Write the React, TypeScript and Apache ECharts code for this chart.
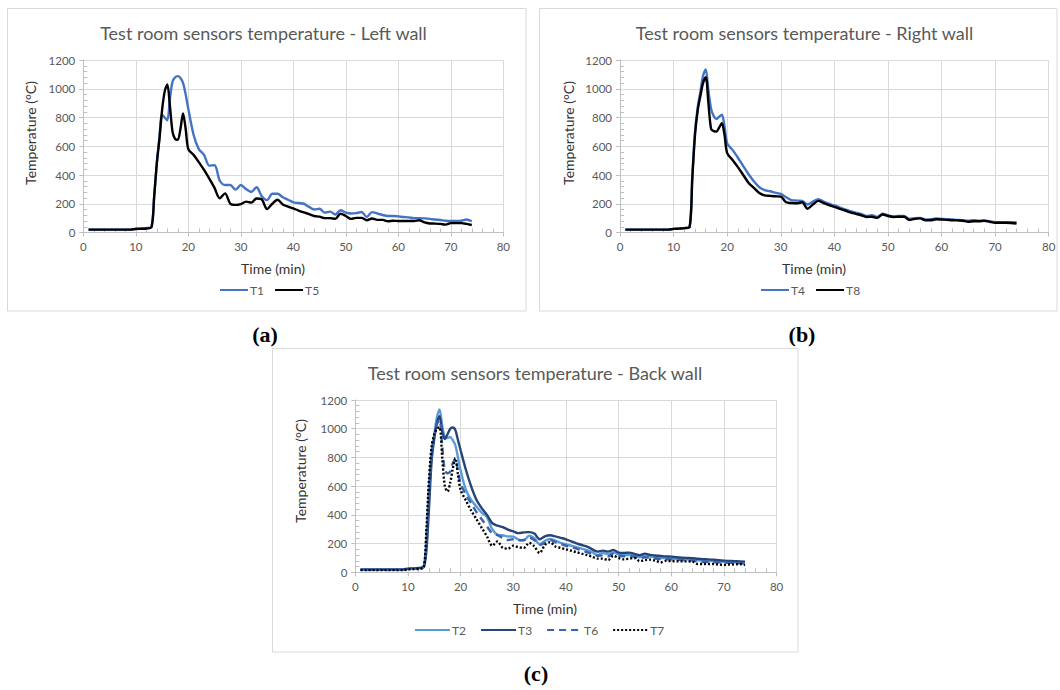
import React, { useEffect, useRef } from "react";
import * as echarts from "echarts";

// Time axis (min)
const TIME = [
  1, 2, 3, 4, 5, 6, 7, 8, 9, 10, 11, 12, 13,
  13.5, 14, 14.5, 15, 15.5, 16, 16.5, 17, 17.5, 18, 18.5, 19, 19.5,
  20, 21, 22, 23, 24, 25, 26, 27, 28, 29, 30, 31, 32, 33, 34, 35, 36, 37, 38, 39,
  40, 41, 42, 43, 44, 45, 46, 47, 48, 49, 50, 51, 52, 53, 54, 55, 56, 57, 58, 59,
  60, 61, 62, 63, 64, 65, 66, 67, 68, 69, 70, 71, 72, 73, 74,
];

const X_TICKS = [0, 80, 10];
const Y_TICKS = [0, 1200, 200];

// Left wall
const T1 = [
  20, 20, 20, 20, 20, 20, 20, 20, 20, 26, 28, 30, 40,
  250, 480, 660, 820, 800, 780, 930, 1050, 1080, 1088, 1075, 1040, 960,
  860, 680, 580, 540, 465, 468, 360, 330, 330, 298, 330, 302, 282, 315, 252, 225, 270, 270, 245, 228,
  210, 205, 200, 178, 160, 165, 138, 145, 125, 155, 138, 132, 135, 143, 108, 142, 132, 122, 115, 115,
  112, 108, 105, 100, 100, 98, 95, 90, 87, 82, 80, 80, 82, 90, 78,
];
const T5 = [
  20, 20, 20, 20, 20, 20, 20, 20, 20, 24, 26, 28, 38,
  250, 480, 650, 850, 980, 1030, 880, 700, 650, 645, 720, 828, 720,
  580, 540, 490, 435, 375, 310, 238, 272, 200, 192, 198, 215, 208, 237, 230, 163, 200, 228, 195, 180,
  167, 153, 140, 128, 115, 110, 100, 100, 95, 130, 115, 95, 102, 102, 85, 97, 88, 88, 78, 82,
  80, 80, 80, 80, 85, 70, 63, 62, 60, 55, 65, 65, 65, 60, 52,
];

// Right wall
const T4 = [
  20, 20, 20, 20, 20, 20, 20, 20, 20, 25, 27, 30, 40,
  400, 700, 870, 980, 1090, 1135, 990, 860, 810, 790, 805, 820, 740,
  620, 575, 520, 462, 405, 355, 315, 295, 287, 277, 268, 245, 225, 222, 220, 195, 215, 232, 215, 200,
  188, 175, 160, 148, 138, 130, 115, 120, 108, 130, 120, 112, 115, 115, 95, 100, 102, 90, 92, 98,
  95, 92, 90, 88, 85, 82, 85, 82, 82, 78, 72, 72, 72, 72, 70,
];
const T8 = [
  20, 20, 20, 20, 20, 20, 20, 20, 20, 25, 27, 30, 40,
  380, 680, 850, 950, 1040, 1080, 900, 720, 705, 702, 730, 760, 680,
  552, 505, 455, 400, 345, 310, 275, 258, 255, 252, 250, 210, 205, 203, 210, 165, 195, 220, 205, 190,
  178, 165, 153, 140, 130, 120, 108, 110, 102, 125, 115, 108, 110, 110, 88, 95, 98, 85, 85, 92,
  90, 88, 85, 84, 82, 75, 78, 78, 82, 75, 68, 68, 68, 66, 63,
];

// Back wall
const T2 = [
  18, 18, 18, 18, 18, 18, 18, 18, 18, 24, 26, 28, 40,
  250, 600, 850, 960, 1080, 1135, 1020, 940, 935, 942, 920, 885, 800,
  710, 575, 505, 458, 416, 385, 300, 262, 258, 250, 248, 228, 222, 255, 238, 195, 220, 232, 220, 205,
  195, 185, 175, 165, 155, 140, 120, 135, 125, 140, 125, 120, 120, 115, 105, 115, 110, 105, 100, 98,
  95, 94, 92, 90, 88, 84, 80, 79, 78, 75, 72, 71, 70, 69, 68,
];
const T3 = [
  20, 20, 20, 20, 20, 20, 20, 20, 20, 25, 27, 30, 40,
  150, 450, 780, 930, 1040, 1088, 980, 928, 960, 998, 1008, 990, 920,
  850, 714, 598, 505, 447, 400, 342, 325, 315, 297, 285, 273, 278, 280, 270, 230, 250, 258, 250, 240,
  230, 215, 202, 190, 179, 160, 144, 151, 144, 156, 137, 135, 137, 128, 119, 130, 121, 117, 114, 111,
  109, 105, 102, 100, 98, 94, 91, 90, 88, 84, 81, 79, 77, 76, 74,
];
const T6 = [
  18, 18, 18, 18, 18, 18, 18, 18, 18, 24, 26, 28, 38,
  220, 560, 820, 950, 1030, 1060, 880, 710, 690, 700, 760, 790, 700,
  620, 540, 480, 420, 370, 320, 272, 258, 240, 225, 230, 222, 225, 240, 225, 190, 205, 225, 210, 198,
  185, 175, 165, 152, 140, 128, 115, 118, 110, 130, 115, 112, 112, 108, 95, 105, 100, 96, 92, 91,
  90, 88, 85, 84, 82, 76, 72, 71, 70, 69, 68, 66, 65, 63, 60,
];
const T7 = [
  15, 15, 15, 15, 15, 15, 15, 15, 15, 20, 22, 25, 35,
  300, 650, 880, 960, 1000, 1010, 800, 600, 563, 620, 720, 795, 680,
  574, 500, 430, 370, 310, 250, 185, 215, 170, 165, 185, 175, 170, 205, 180, 135, 190, 210, 180, 170,
  160, 150, 140, 130, 120, 108, 95, 95, 85, 115, 100, 90, 95, 100, 78, 85, 88, 80, 70, 80,
  78, 77, 76, 76, 75, 58, 58, 58, 58, 54, 52, 54, 55, 58, 50,
];

const FONT = "Lato, 'Open Sans', sans-serif";
const GREY = "#595959";

const pairs = (vals: number[]) => TIME.map((t, i) => [t, vals[i]]);

export default function App() {
  const ref = useRef<HTMLDivElement>(null);
  useEffect(() => {
    if (!ref.current) return;
    const chart = echarts.init(ref.current, undefined, { renderer: "svg" });

    const grids = [
      { left: 83.3, top: 60, width: 420, height: 172.5 },
      { left: 620, top: 60, width: 428.7, height: 172.5 },
      { left: 355.3, top: 400, width: 421.3, height: 172.3 },
    ];

    const axisCommon = {
      type: "value" as const,
      axisLine: { show: true, lineStyle: { color: "#bfbfbf", width: 1 } },
      axisTick: { show: true, length: 4, lineStyle: { color: "#bfbfbf" } },
      minorTick: { show: true, splitNumber: 5, length: -4, lineStyle: { color: "#bfbfbf" } },
      splitLine: { show: true, lineStyle: { color: "#d9d9d9", width: 1 } },
      axisLabel: {
        color: GREY,
        fontSize: 11.5,
        fontFamily: FONT,
        formatter: (v: number) => String(v),
      },
    };

    const xAxis = grids.map((_, i) => ({
      ...axisCommon,
      gridIndex: i,
      min: X_TICKS[0],
      max: X_TICKS[1],
      interval: X_TICKS[2],
      axisLabel: { ...axisCommon.axisLabel, margin: 8 },
    }));
    const yAxis = grids.map((_, i) => ({
      ...axisCommon,
      gridIndex: i,
      min: Y_TICKS[0],
      max: Y_TICKS[1],
      interval: Y_TICKS[2],
      axisLabel: { ...axisCommon.axisLabel, margin: 8 },
    }));

    const line = (
      name: string,
      vals: number[],
      gi: number,
      color: string,
      type: any = "solid"
    ) => ({
      name,
      type: "line" as const,
      xAxisIndex: gi,
      yAxisIndex: gi,
      data: pairs(vals),
      symbol: "none",
      smooth: 0.3,
      color,
      lineStyle: { color, width: 2.4, type },
      z: 3,
    });

    const series = [
      line("T1", T1, 0, "#4472C4"),
      line("T5", T5, 0, "#000000"),
      line("T4", T4, 1, "#4472C4"),
      line("T8", T8, 1, "#000000"),
      line("T2", T2, 2, "#5B9BD5"),
      line("T3", T3, 2, "#264478"),
      line("T6", T6, 2, "#3A62AE", [7, 5]),
      line("T7", T7, 2, "#000000", [2, 2]),
    ];

    const legendText = { color: GREY, fontSize: 12, fontFamily: FONT, padding: [0, 0, 0, -3] };
    const legend = [
      { data: ["T1", "T5"], left: 219, top: 284, itemWidth: 28, itemHeight: 14, itemGap: 10 },
      { data: ["T4", "T8"], left: 760, top: 284, itemWidth: 28, itemHeight: 14, itemGap: 10 },
      { data: ["T2", "T3", "T6", "T7"], left: 414, top: 624, itemWidth: 35, itemHeight: 14, itemGap: 14 },
    ].map((l) => ({
      ...l,
      selectedMode: false,
      textStyle: legendText,
      padding: 0,
      itemStyle: { opacity: 0, borderWidth: 0 },
    }));

    const txt = (
      text: string,
      x: number,
      y: number,
      size: number,
      color: string,
      extra: any = {}
    ) => ({
      type: "text",
      x,
      y,
      rotation: extra.rotation || 0,
      z: 10,
      style: {
        text,
        fill: color,
        font: `${extra.weight || "normal"} ${size}px ${extra.family || FONT}`,
        align: "center",
        verticalAlign: "middle",
        textAlign: "center",
        textVerticalAlign: "middle",
      },
    });

    const border = (x: number, y: number, w: number, h: number) => ({
      type: "rect",
      shape: { x, y, width: w, height: h },
      style: { fill: "none", stroke: "#d9d9d9", lineWidth: 1 },
      z: 0,
    });

    const SERIF = "'Liberation Serif', 'DejaVu Serif', serif";

    const graphic = [
      border(7.5, 8.5, 518.5, 302.5),
      border(539.5, 8.5, 517.5, 302.5),
      border(272.5, 348.5, 525.5, 303.5),
      txt("Test room sensors temperature - Left wall", 263.5, 32.5, 18, GREY),
      txt("Test room sensors temperature - Right wall", 804.5, 32.5, 18, GREY),
      txt("Test room sensors temperature - Back wall", 535, 372.5, 18, GREY),
      txt("Temperature (°C)", 30.5, 133, 14, "#333333", { rotation: Math.PI / 2 }),
      txt("Temperature (°C)", 568, 133, 14, "#333333", { rotation: Math.PI / 2 }),
      txt("Temperature (°C)", 300.7, 471, 14, "#333333", { rotation: Math.PI / 2 }),
      txt("Time (min)", 273, 268.5, 14, "#333333"),
      txt("Time (min)", 814, 268.5, 14, "#333333"),
      txt("Time (min)", 545, 608.5, 14, "#333333"),
      txt("(a)", 265, 334, 22, "#000", { weight: "bold", family: SERIF }),
      txt("(b)", 802, 334, 22, "#000", { weight: "bold", family: SERIF }),
      txt("(c)", 536, 673, 22, "#000", { weight: "bold", family: SERIF }),
    ];

    chart.setOption({
      animation: false,
      backgroundColor: "#ffffff",
      grid: grids,
      xAxis,
      yAxis,
      series,
      legend,
      graphic,
    });

    return () => chart.dispose();
  }, []);

  return (
    <div
      ref={ref}
      style={{ position: "fixed", left: 0, top: 0, width: 1060, height: 690 }}
    />
  );
}
